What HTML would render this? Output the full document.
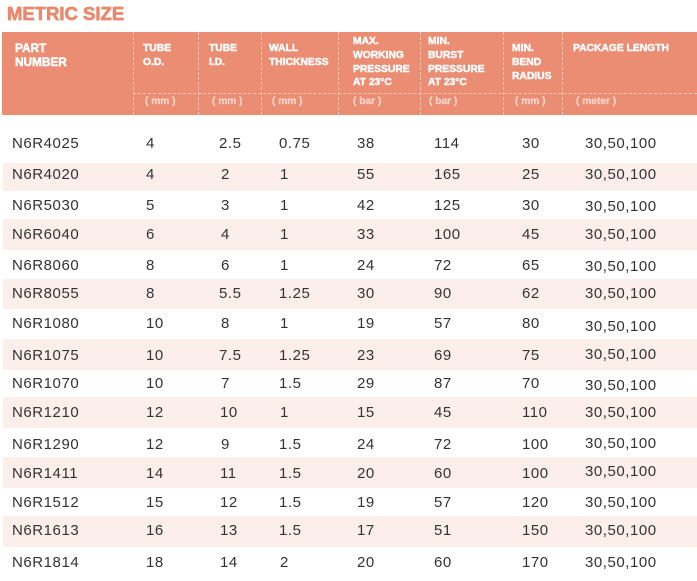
<!DOCTYPE html>
<html><head><meta charset="utf-8"><style>
html,body{margin:0;padding:0;background:#fff;}
body{width:697px;height:581px;position:relative;overflow:hidden;font-family:"Liberation Sans",Arial,sans-serif;}
.t{position:absolute;left:7px;top:4px;font-size:18.5px;line-height:19px;font-weight:bold;color:#e9896d;-webkit-text-stroke:0.7px #e9896d;letter-spacing:0;}
.hd{position:absolute;left:2px;top:32px;width:695px;height:83px;background:#ea8d73;}
.vl{position:absolute;top:32px;height:83px;width:0;border-left:1px dashed #f6c6b7;}
.hl{position:absolute;top:93px;left:133px;width:564px;height:0;border-top:1px dashed #f6c6b7;}
.h{position:absolute;color:#fff;font-weight:bold;font-size:10.3px;line-height:13.8px;white-space:nowrap;-webkit-text-stroke:0.45px #fff;}
.h.big{font-size:11.8px;line-height:14px;-webkit-text-stroke:0.5px #fff;}
.s{position:absolute;top:95px;line-height:14px;color:#f9d3c7;font-weight:bold;font-size:10.2px;white-space:nowrap;-webkit-text-stroke:0.3px #f9d3c7;}
.band{position:absolute;left:3px;width:694px;background:#fcefeb;}
.c{position:absolute;font-size:15px;line-height:20px;color:#333;letter-spacing:0.55px;white-space:nowrap;}
</style></head><body>
<div class="t">METRIC SIZE</div>
<div class="hd"></div>
<div class="vl" style="left:133px"></div>
<div class="vl" style="left:198px"></div>
<div class="vl" style="left:261px"></div>
<div class="vl" style="left:338px"></div>
<div class="vl" style="left:420px"></div>
<div class="vl" style="left:503px"></div>
<div class="vl" style="left:562px"></div>
<div class="hl"></div>

<div class="h big" style="left:15px;top:41px">PART<br>NUMBER</div>
<div class="h" style="left:143px;top:42px">TUBE<br>O.D.</div>
<div class="h" style="left:209px;top:42px">TUBE<br>I.D.</div>
<div class="h" style="left:269px;top:42px">WALL<br>THICKNESS</div>
<div class="h" style="left:353px;top:35px">MAX.<br>WORKING<br>PRESSURE<br>AT 23°C</div>
<div class="h" style="left:428px;top:35px">MIN.<br>BURST<br>PRESSURE<br>AT 23°C</div>
<div class="h" style="left:512px;top:42px">MIN.<br>BEND<br>RADIUS</div>
<div class="h" style="left:573px;top:42px">PACKAGE LENGTH</div>

<div class="s" style="left:145px">( mm )</div>
<div class="s" style="left:212px">( mm )</div>
<div class="s" style="left:272px">( mm )</div>
<div class="s" style="left:353px">( bar )</div>
<div class="s" style="left:429px">( bar )</div>
<div class="s" style="left:515px">( mm )</div>
<div class="s" style="left:576px">( meter )</div>

<div class="band" style="top:163px;height:28px"></div>
<div class="band" style="top:219px;height:31px"></div>
<div class="band" style="top:279px;height:30px"></div>
<div class="band" style="top:339px;height:31px"></div>
<div class="band" style="top:397px;height:31px"></div>
<div class="band" style="top:457px;height:31px"></div>
<div class="band" style="top:516px;height:31px"></div>

<!-- rows -->
<div style="position:absolute;left:0;top:134px;width:697px;height:20px">
<div class="c" style="left:12px">N6R4025</div><div class="c" style="left:146px">4</div><div class="c" style="left:219px">2.5</div><div class="c" style="left:279px">0.75</div><div class="c" style="left:357px">38</div><div class="c" style="left:434px">114</div><div class="c" style="left:522px">30</div><div class="c" style="left:585px">30,50,100</div></div>

<div style="position:absolute;left:0;top:165px;width:697px;height:20px">
<div class="c" style="left:12px">N6R4020</div><div class="c" style="left:146px">4</div><div class="c" style="left:221px">2</div><div class="c" style="left:280px">1</div><div class="c" style="left:357px">55</div><div class="c" style="left:434px">165</div><div class="c" style="left:522px">25</div><div class="c" style="left:585px">30,50,100</div></div>

<div style="position:absolute;left:0;top:195.5px;width:697px;height:20px">
<div class="c" style="left:12px">N6R5030</div><div class="c" style="left:146px">5</div><div class="c" style="left:221px">3</div><div class="c" style="left:280px">1</div><div class="c" style="left:357px">42</div><div class="c" style="left:434px">125</div><div class="c" style="left:522px">30</div><div class="c" style="left:585px;top:1px">30,50,100</div></div>

<div style="position:absolute;left:0;top:224.5px;width:697px;height:20px">
<div class="c" style="left:12px">N6R6040</div><div class="c" style="left:146px">6</div><div class="c" style="left:221px">4</div><div class="c" style="left:280px">1</div><div class="c" style="left:357px">33</div><div class="c" style="left:434px">100</div><div class="c" style="left:522px">45</div><div class="c" style="left:585px;top:0.5px">30,50,100</div></div>

<div style="position:absolute;left:0;top:255.5px;width:697px;height:20px">
<div class="c" style="left:12px">N6R8060</div><div class="c" style="left:146px">8</div><div class="c" style="left:221px">6</div><div class="c" style="left:280px">1</div><div class="c" style="left:357px">24</div><div class="c" style="left:434px">72</div><div class="c" style="left:522px">65</div><div class="c" style="left:585px;top:1px">30,50,100</div></div>

<div style="position:absolute;left:0;top:284px;width:697px;height:20px">
<div class="c" style="left:12px">N6R8055</div><div class="c" style="left:146px">8</div><div class="c" style="left:219px">5.5</div><div class="c" style="left:279px">1.25</div><div class="c" style="left:357px">30</div><div class="c" style="left:434px">90</div><div class="c" style="left:522px">62</div><div class="c" style="left:585px">30,50,100</div></div>

<div style="position:absolute;left:0;top:314px;width:697px;height:20px">
<div class="c" style="left:12px">N6R1080</div><div class="c" style="left:146px">10</div><div class="c" style="left:221px">8</div><div class="c" style="left:280px">1</div><div class="c" style="left:357px">19</div><div class="c" style="left:434px">57</div><div class="c" style="left:522px">80</div><div class="c" style="left:585px;top:2.5px">30,50,100</div></div>

<div style="position:absolute;left:0;top:345.5px;width:697px;height:20px">
<div class="c" style="left:12px">N6R1075</div><div class="c" style="left:146px">10</div><div class="c" style="left:219px">7.5</div><div class="c" style="left:279px">1.25</div><div class="c" style="left:357px">23</div><div class="c" style="left:434px">69</div><div class="c" style="left:522px">75</div><div class="c" style="left:585px;top:-1px">30,50,100</div></div>

<div style="position:absolute;left:0;top:374px;width:697px;height:20px">
<div class="c" style="left:12px">N6R1070</div><div class="c" style="left:146px">10</div><div class="c" style="left:221px">7</div><div class="c" style="left:279px">1.5</div><div class="c" style="left:357px">29</div><div class="c" style="left:434px">87</div><div class="c" style="left:522px">70</div><div class="c" style="left:585px;top:1.5px">30,50,100</div></div>

<div style="position:absolute;left:0;top:403px;width:697px;height:20px">
<div class="c" style="left:12px">N6R1210</div><div class="c" style="left:146px">12</div><div class="c" style="left:220px">10</div><div class="c" style="left:280px">1</div><div class="c" style="left:357px">15</div><div class="c" style="left:434px">45</div><div class="c" style="left:522px">110</div><div class="c" style="left:585px">30,50,100</div></div>

<div style="position:absolute;left:0;top:435px;width:697px;height:20px">
<div class="c" style="left:12px">N6R1290</div><div class="c" style="left:146px">12</div><div class="c" style="left:221px">9</div><div class="c" style="left:279px">1.5</div><div class="c" style="left:357px">24</div><div class="c" style="left:434px">72</div><div class="c" style="left:522px">100</div><div class="c" style="left:585px;top:-1.5px">30,50,100</div></div>

<div style="position:absolute;left:0;top:464px;width:697px;height:20px">
<div class="c" style="left:12px">N6R1411</div><div class="c" style="left:146px">14</div><div class="c" style="left:220px">11</div><div class="c" style="left:279px">1.5</div><div class="c" style="left:357px">20</div><div class="c" style="left:434px">60</div><div class="c" style="left:522px">100</div><div class="c" style="left:585px;top:-2px">30,50,100</div></div>

<div style="position:absolute;left:0;top:493px;width:697px;height:20px">
<div class="c" style="left:12px">N6R1512</div><div class="c" style="left:146px">15</div><div class="c" style="left:220px">12</div><div class="c" style="left:279px">1.5</div><div class="c" style="left:357px">19</div><div class="c" style="left:434px">57</div><div class="c" style="left:522px">120</div><div class="c" style="left:585px">30,50,100</div></div>

<div style="position:absolute;left:0;top:521px;width:697px;height:20px">
<div class="c" style="left:12px">N6R1613</div><div class="c" style="left:146px">16</div><div class="c" style="left:220px">13</div><div class="c" style="left:279px">1.5</div><div class="c" style="left:357px">17</div><div class="c" style="left:434px">51</div><div class="c" style="left:522px">150</div><div class="c" style="left:585px">30,50,100</div></div>

<div style="position:absolute;left:0;top:553px;width:697px;height:20px">
<div class="c" style="left:12px">N6R1814</div><div class="c" style="left:146px">18</div><div class="c" style="left:220px">14</div><div class="c" style="left:280px">2</div><div class="c" style="left:357px">20</div><div class="c" style="left:434px">60</div><div class="c" style="left:522px">170</div><div class="c" style="left:585px">30,50,100</div></div>
</body></html>
